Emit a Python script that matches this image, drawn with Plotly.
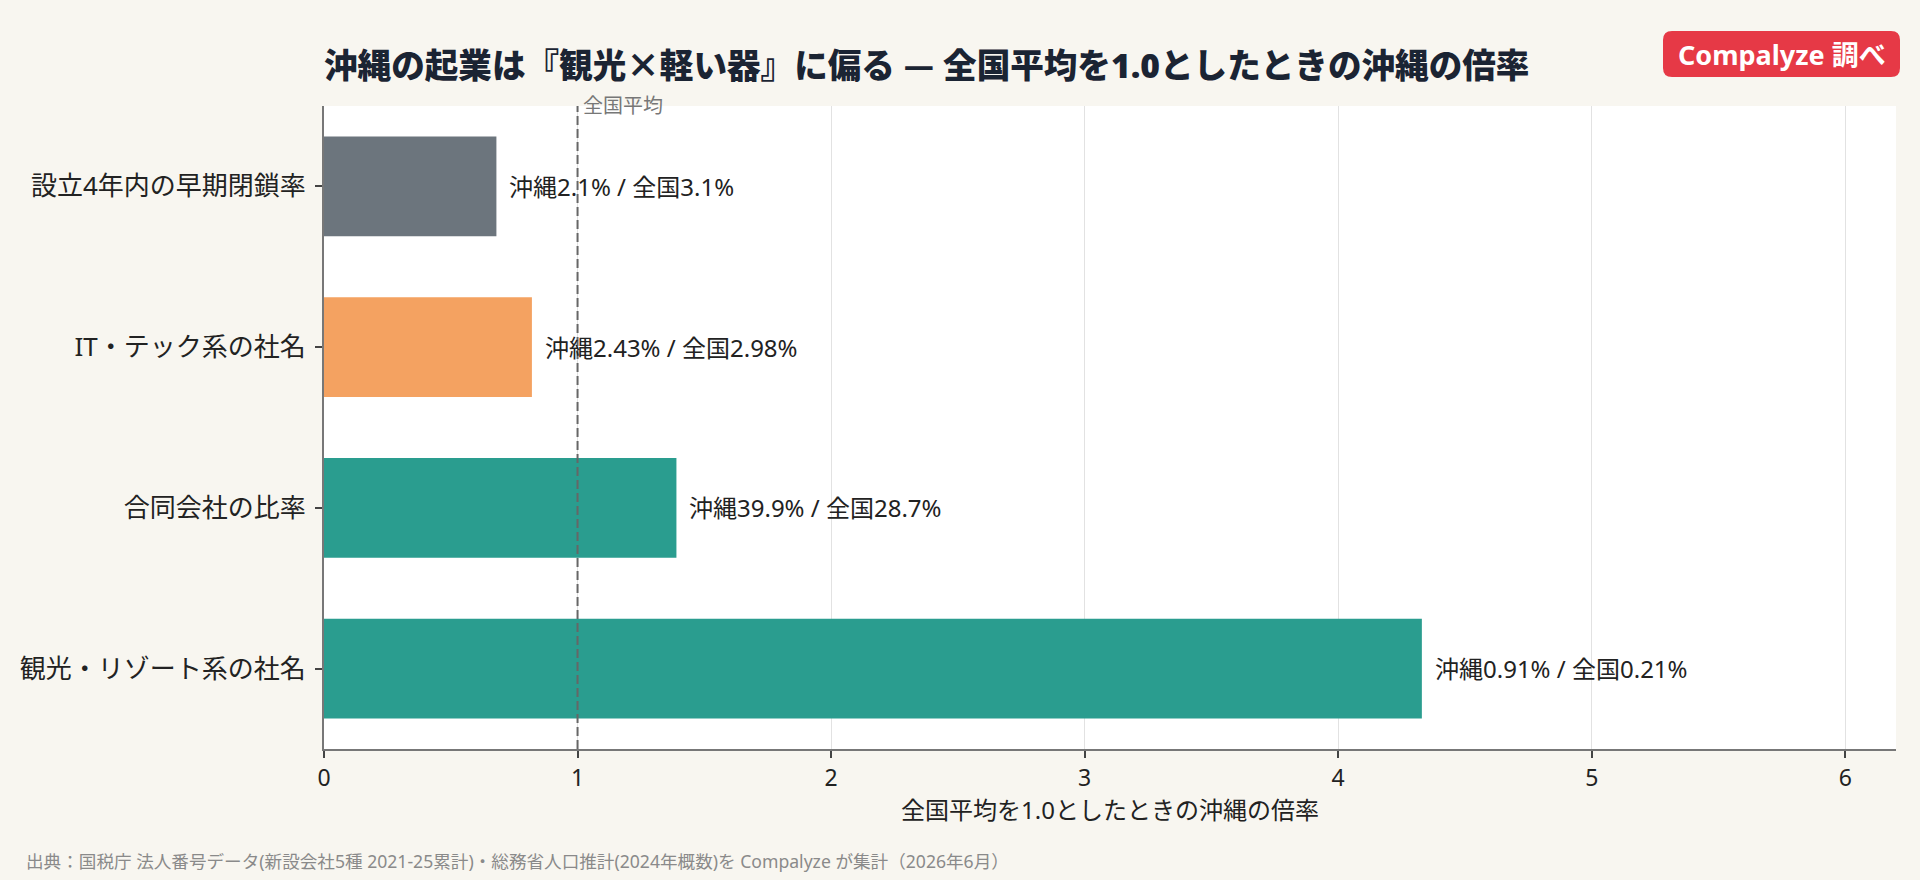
import plotly.graph_objects as go

# ---- data ----
categories = ["設立4年内の早期閉鎖率", "IT・テック系の社名", "合同会社の比率", "観光・リゾート系の社名"]
okinawa_pct = ["2.1%", "2.43%", "39.9%", "0.91%"]
national_pct = ["3.1%", "2.98%", "28.7%", "0.21%"]
ratio = [0.68, 0.82, 1.39, 4.33]
bar_colors = ["#6c757d", "#f4a261", "#2a9d8f", "#2a9d8f"]
x_ticks = [0, 1, 2, 3, 4, 5, 6]

W, H = 1920, 880
ML, MR, MT, MB = 324, 24, 106, 131
PW, PH = W - ML - MR, H - MT - MB

def px_x(px):
    return (px - ML) / PW

def px_y(py):
    return (H - MB - py) / PH

FONT = "Noto Sans, Noto Sans CJK JP"

fig = go.Figure()
fig.add_trace(go.Bar(
    y=categories, x=ratio, orientation="h",
    marker=dict(color=bar_colors, line=dict(width=0)),
    width=0.62, hoverinfo="skip",
))

annotations = []
for c, v, o, n in zip(categories, ratio, okinawa_pct, national_pct):
    annotations.append(dict(
        x=v, y=c, xref="x", yref="y", text=f"沖縄{o} / 全国{n}",
        showarrow=False, xanchor="left", yanchor="middle", xshift=11,
        font=dict(family=FONT, size=24, color="#222222"),
    ))

annotations.append(dict(
    x=1, y=1, xref="x", yref="paper", text="全国平均", showarrow=False,
    xanchor="left", yanchor="middle", xshift=3, yshift=1,
    font=dict(family=FONT, size=20, color="#777777"),
))

annotations.append(dict(
    x=px_x(24), y=px_y(861), xref="paper", yref="paper",
    text="出典：国税庁 法人番号データ(新設会社5種 2021-25累計)・総務省人口推計(2024年概数)を Compalyze が集計（2026年6月）",
    showarrow=False, xanchor="left", yanchor="middle",
    font=dict(family=FONT, size=17.6, color="#8a8a8a"),
))

# badge
bx0, bx1, by0, by1 = 1663, 1900, 31, 77
annotations.append(dict(
    x=px_x((bx0 + bx1) / 2), y=px_y((by0 + by1) / 2), xref="paper", yref="paper",
    text="<b>Compalyze 調べ</b>", showarrow=False, xanchor="center", yanchor="middle",
    font=dict(family=FONT, size=27, color="#ffffff"),
))

r = 9
def rounded_path(x0, y0, x1, y1, r):
    X = px_x
    Y = px_y
    return (f"M {X(x0+r)},{Y(y0)} L {X(x1-r)},{Y(y0)} Q {X(x1)},{Y(y0)} {X(x1)},{Y(y0+r)} "
            f"L {X(x1)},{Y(y1-r)} Q {X(x1)},{Y(y1)} {X(x1-r)},{Y(y1)} "
            f"L {X(x0+r)},{Y(y1)} Q {X(x0)},{Y(y1)} {X(x0)},{Y(y1-r)} "
            f"L {X(x0)},{Y(y0+r)} Q {X(x0)},{Y(y0)} {X(x0+r)},{Y(y0)} Z")

shapes = [
    dict(type="line", x0=1, x1=1, xref="x", y0=0, y1=1, yref="paper",
         line=dict(color="#666666", width=2, dash="9px,4px"), layer="above"),
    dict(type="path", path=rounded_path(bx0, by0, bx1, by1, r), xref="paper", yref="paper",
         fillcolor="#e63946", line=dict(width=0), layer="above"),
]

title_text = ("沖縄の起業は『観光<span style=\"font-family:'Noto Sans CJK JP'\">×</span>軽い器』に偏る "
              "<span style=\"font-family:'Noto Sans CJK JP'\">—</span> 全国平均を1.0としたときの沖縄の倍率")

fig.update_layout(
    width=W, height=H,
    margin=dict(l=ML, r=MR, t=MT, b=MB),
    paper_bgcolor="#f8f6f0", plot_bgcolor="#ffffff",
    showlegend=False,
    title=dict(
        text=title_text,
        x=ML / W, xanchor="left", xref="container", y=1 - 66 / H, yanchor="middle", yref="container",
        font=dict(family=FONT, size=33.6, color="#1b2433", weight=900),
    ),
    xaxis=dict(
        range=[0, 6.2], tickvals=x_ticks, ticktext=[str(t) for t in x_ticks],
        showgrid=True, gridcolor="#e2e2e2", gridwidth=1, zeroline=False,
        showline=True, linecolor="#777777", linewidth=2,
        ticks="outside", ticklen=7, tickcolor="#444444", tickwidth=2,
        tickfont=dict(family=FONT, size=23, color="#222222"),
        title=dict(text="全国平均を1.0としたときの沖縄の倍率", standoff=6,
                   font=dict(family=FONT, size=24, color="#222222")),
    ),
    yaxis=dict(
        categoryorder="array", categoryarray=categories, autorange="reversed",
        showgrid=False, zeroline=False,
        showline=True, linecolor="#777777", linewidth=2,
        ticks="outside", ticklen=7, tickcolor="#444444", tickwidth=2, ticklabelstandoff=4,
        tickfont=dict(family=FONT, size=26, color="#222222"),
    ),
    annotations=annotations,
    shapes=shapes,
)

fig.write_html("out.html")
